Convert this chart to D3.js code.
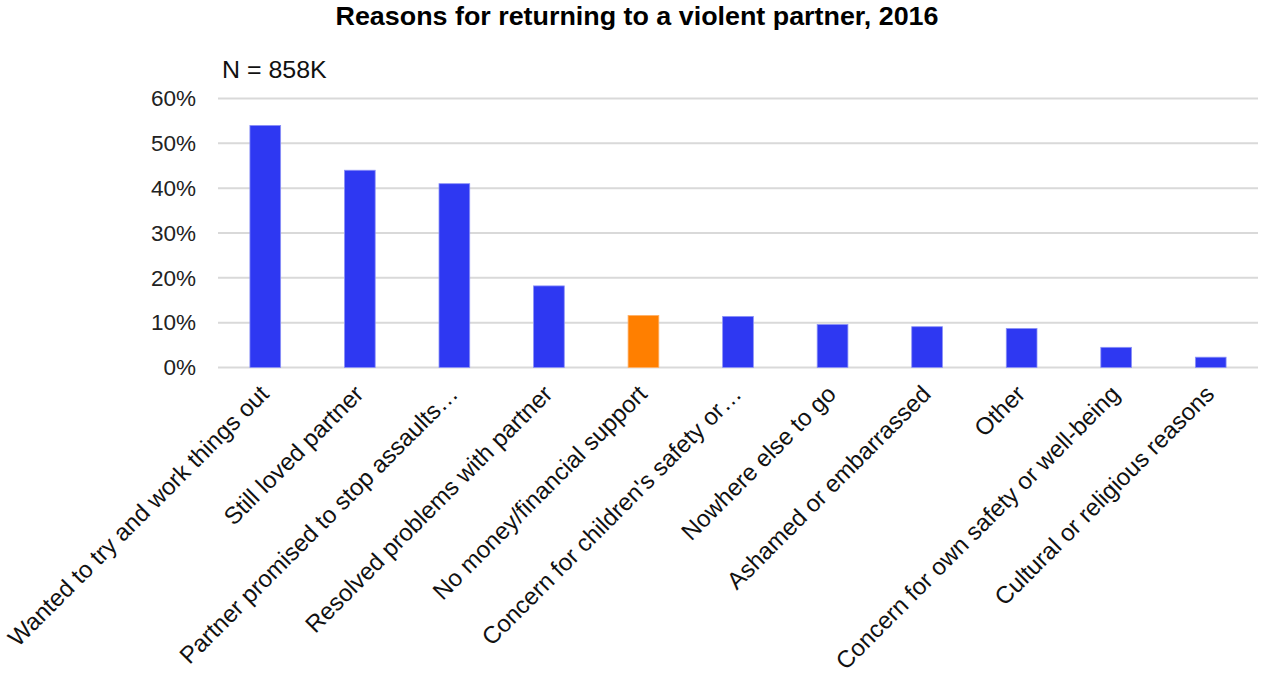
<!DOCTYPE html>
<html>
<head>
<meta charset="utf-8">
<script src="https://cdn.jsdelivr.net/npm/d3@7"></script>
<style>
  html, body { margin: 0; padding: 0; background: #fff; }
  svg { display: block; font-family: "Liberation Sans", Arial, sans-serif; }
</style>
</head>
<body>
<svg id="chart" width="1262" height="673"></svg>
<script>
// Reasons for returning to a violent partner (share of respondents)
const categories = [
  "Wanted to try and work things out",
  "Still loved partner",
  "Partner promised to stop assaults\u2026",
  "Resolved problems with partner",
  "No money/financial support",
  "Concern for children's safety or\u2026",
  "Nowhere else to go",
  "Ashamed or embarrassed",
  "Other",
  "Concern for own safety or well-being",
  "Cultural or religious reasons"
];
const values = [0.54, 0.44, 0.41, 0.182, 0.116, 0.114, 0.096, 0.091, 0.087, 0.045, 0.023];
const highlighted = ["No money/financial support"];
const yTicks = [0, 0.1, 0.2, 0.3, 0.4, 0.5, 0.6];

const titleText = "Reasons for returning to a violent partner, 2016";
const noteText = "N = 858K";

const svg = d3.select("#chart");
const plot = { left: 218, right: 1258, top: 98.5, bottom: 367.5 };

const x = d3.scaleBand().domain(categories).range([plot.left, plot.right]).paddingInner(0).paddingOuter(0);
const y = d3.scaleLinear().domain([0, 0.6]).range([plot.bottom, plot.top]);
const barW = x.bandwidth() * 0.325;

// title
svg.append("text")
  .attr("transform", "translate(637,25) scale(1.075,1)")
  .attr("text-anchor", "middle")
  .attr("font-size", 25).attr("font-weight", "bold").attr("fill", "#000")
  .text(titleText);

// sample size note
svg.append("text")
  .attr("transform", "translate(222,78) scale(1.04,1)")
  .attr("font-size", 24).attr("fill", "#111")
  .text(noteText);

// gridlines
svg.append("g").selectAll("line").data(yTicks).join("line")
  .attr("x1", plot.left).attr("x2", plot.right)
  .attr("y1", d => y(d)).attr("y2", d => y(d))
  .attr("stroke", "#d9d9d9").attr("stroke-width", 2);

// y axis labels
const yAxis = d3.axisLeft(y).tickValues(yTicks).tickFormat(d3.format(".0%")).tickSize(0).tickPadding(22);
const yg = svg.append("g").attr("transform", `translate(${plot.left},0)`).call(yAxis);
yg.select(".domain").remove();
yg.selectAll("text").attr("font-size", 22.5).attr("fill", "#222")
  .attr("font-family", "Liberation Sans, Arial, sans-serif");

// bars
svg.append("g").selectAll("rect").data(categories).join("rect")
  .attr("x", d => x(d) + (x.bandwidth() - barW) / 2)
  .attr("width", barW)
  .attr("y", (d, i) => y(values[i]))
  .attr("height", (d, i) => y(0) - y(values[i]))
  .attr("fill", d => highlighted.includes(d) ? "#ff7f00" : "#2e38f2")
  .attr("stroke", d => highlighted.includes(d) ? "#ffb066" : "#8c92f7")
  .attr("stroke-width", 0.8);

// rotated category labels
svg.append("g").selectAll("text").data(categories).join("text")
  .attr("transform", d => `translate(${x(d) + x.bandwidth() / 2 + 5},${plot.bottom + 28}) rotate(-45)`)
  .attr("text-anchor", "end")
  .attr("font-size", 24).attr("fill", "#111")
  .text(d => d);
</script>
</body>
</html>
